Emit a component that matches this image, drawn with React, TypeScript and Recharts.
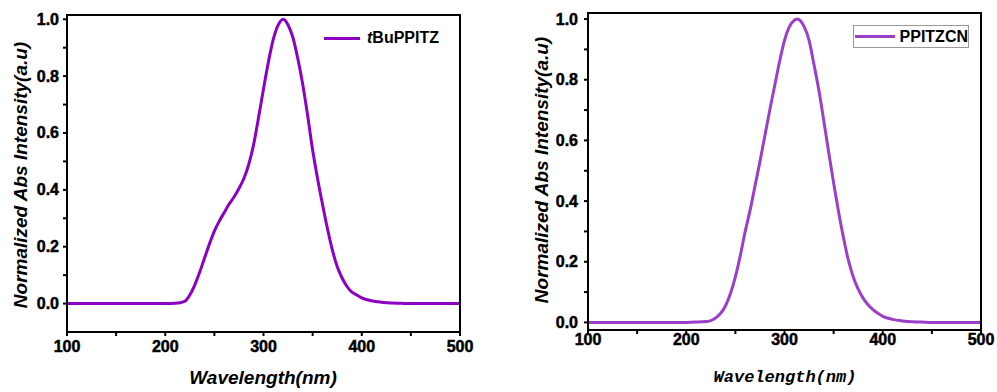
import { LineChart, Line, XAxis, YAxis, ReferenceLine } from 'recharts';

// tBuPPITZ: wavelength (nm) and normalized absorbance
const tbuWavelengths = [
  100, 150, 200, 210, 215, 220, 225, 230, 235, 240, 245, 250, 255, 260, 265, 270, 275, 280,
  285, 290, 295, 300, 305, 310, 315, 320, 325, 330, 335, 340, 345, 350, 355, 360, 365, 370,
  375, 380, 385, 390, 395, 400, 410, 420, 430, 440, 450, 500,
];
const tbuValues = [
  0, 0, 0, 0.001, 0.003, 0.008, 0.03, 0.065, 0.11, 0.16, 0.21, 0.255, 0.29, 0.32, 0.35, 0.375,
  0.405, 0.44, 0.49, 0.56, 0.655, 0.755, 0.85, 0.93, 0.98, 1.0, 0.98, 0.935, 0.86, 0.77, 0.66, 0.54,
  0.44, 0.35, 0.265, 0.19, 0.13, 0.09, 0.06, 0.04, 0.03, 0.02, 0.01, 0.005, 0.002, 0.001, 0, 0,
];

// PPITZCN: wavelength (nm) and normalized absorbance
const cnWavelengths = [
  100, 150, 200, 210, 215, 220, 225, 230, 235, 240, 245, 250, 255, 260, 265, 270, 275, 280,
  285, 290, 295, 300, 305, 310, 313, 316, 320, 325, 330, 335, 340, 345, 350, 355, 360, 365,
  370, 375, 380, 385, 390, 395, 400, 410, 420, 430, 440, 450, 500,
];
const cnValues = [
  0, 0, 0, 0.001, 0.002, 0.003, 0.006, 0.015, 0.03, 0.055, 0.095, 0.15, 0.22, 0.3, 0.37, 0.45,
  0.53, 0.615, 0.7, 0.78, 0.86, 0.93, 0.975, 0.996, 1.0, 0.995, 0.975, 0.93, 0.85, 0.765, 0.665,
  0.56, 0.46, 0.365, 0.28, 0.205, 0.15, 0.11, 0.08, 0.058, 0.042, 0.03, 0.02, 0.01, 0.005, 0.002,
  0.001, 0, 0,
];

const xTicks = [100, 150, 200, 250, 300, 350, 400, 450, 500];
const yTicks = [0, 0.1, 0.2, 0.3, 0.4, 0.5, 0.6, 0.7, 0.8, 0.9, 1.0];
const leftYDomain = [-0.1, 1.015];
const rightYDomain = [-0.025, 1.02];

const leftData = tbuWavelengths.map((w, i) => ({ w, v: tbuValues[i] }));
const rightData = cnWavelengths.map((w, i) => ({ w, v: cnValues[i] }));

const FONT = '"Liberation Sans", Arial, sans-serif';
const axisStroke = { stroke: '#000', strokeWidth: 2 };

const makeXTick = (dy: number) => (props: any) => {
  const { x, y, payload } = props;
  if (payload.value % 100 !== 0) return <g />;
  return (
    <text x={x} y={y + dy} textAnchor="middle" fill="#000" stroke="#000" strokeWidth={0.5}
      fontSize={16} fontWeight={700} fontFamily={FONT}>
      {payload.value}
    </text>
  );
};

const makeYTick = (dx: number) => (props: any) => {
  const { x, y, payload } = props;
  if (Math.round(payload.value * 10) % 2 !== 0) return <g />;
  return (
    <text x={x - dx} y={y + 5.5} textAnchor="end" fill="#000" stroke="#000" strokeWidth={0.5}
      fontSize={16} fontWeight={700} fontFamily={FONT}>
      {payload.value.toFixed(1)}
    </text>
  );
};

const vTitle = (left: number, top: number) => ({
  position: 'absolute' as const, left, top, transform: 'translate(-50%, -50%) rotate(-90deg)',
  whiteSpace: 'nowrap' as const, fontFamily: FONT, fontSize: 19, fontWeight: 700, fontStyle: 'italic',
});

// plot box outline
const PlotBox = ({ left, top, width, height }: { left: number; top: number; width: number; height: number }) => (
  <svg width={width + 4} height={height + 4} style={{ position: 'absolute', left: left - 2, top: top - 2, overflow: 'visible' }}>
    <rect x={2} y={2} width={width} height={height} fill="none" stroke="#000" strokeWidth={2} />
  </svg>
);

export default function App() {
  return (
    <div style={{ position: 'absolute', left: 0, top: 0, width: 997, height: 392, background: '#fff' }}>
      <div style={{ position: 'absolute', left: 0, top: 0, width: 490, height: 392 }}>
        <LineChart width={490} height={392} data={leftData} margin={{ top: 15, right: 30, bottom: 30, left: 0 }}>
          <XAxis
            dataKey="w" type="number" domain={[100, 500]} ticks={xTicks} interval={0}
            height={30} tick={makeXTick(14)} tickSize={4} axisLine={axisStroke} tickLine={axisStroke}
          />
          <YAxis
            type="number" domain={leftYDomain} allowDataOverflow ticks={yTicks} interval={0}
            width={67} tick={makeYTick(2)} tickSize={4} axisLine={axisStroke} tickLine={axisStroke}
          />
          <ReferenceLine y={leftYDomain[1]} stroke="#000" strokeWidth={2} ifOverflow="visible" />
          <ReferenceLine x={500} stroke="#000" strokeWidth={2} ifOverflow="visible" />
          <Line dataKey="v" type="monotone" stroke="#8C00C4" strokeWidth={3} dot={false} isAnimationActive={false} />
        </LineChart>
        <PlotBox left={67} top={15} width={393} height={317} />
        <div style={{ position: 'absolute', left: 324, top: 29, display: 'flex', alignItems: 'center', fontFamily: FONT }}>
          <div style={{ width: 36, height: 3, background: '#8C00C4' }} />
          <span style={{ marginLeft: 7, fontSize: 16, fontWeight: 700 }}>
            <i>t</i>BuPPITZ
          </span>
        </div>
        <div style={vTitle(21, 175)}>Normalized Abs Intensity(a.u)</div>
        <div
          style={{
            position: 'absolute', left: 263, top: 378, transform: 'translate(-50%, -50%)', whiteSpace: 'nowrap',
            fontFamily: FONT, fontSize: 19, fontWeight: 700, fontStyle: 'italic',
          }}
        >
          Wavelength(nm)
        </div>
      </div>

      <div style={{ position: 'absolute', left: 500, top: 0, width: 497, height: 392 }}>
        <LineChart width={497} height={392} data={rightData} margin={{ top: 13, right: 16, bottom: 32, left: 0 }}>
          <XAxis
            dataKey="w" type="number" domain={[100, 500]} ticks={xTicks} interval={0}
            height={30} tick={makeXTick(9)} tickSize={4} axisLine={axisStroke} tickLine={axisStroke}
          />
          <YAxis
            type="number" domain={rightYDomain} allowDataOverflow ticks={yTicks} interval={0}
            width={88} tick={makeYTick(4)} tickSize={4} axisLine={axisStroke} tickLine={axisStroke}
          />
          <ReferenceLine y={rightYDomain[1]} stroke="#000" strokeWidth={2} ifOverflow="visible" />
          <ReferenceLine x={500} stroke="#000" strokeWidth={2} ifOverflow="visible" />
          <Line dataKey="v" type="monotone" stroke="#9C3FC8" strokeWidth={3} dot={false} isAnimationActive={false} />
        </LineChart>
        <PlotBox left={88} top={13} width={393} height={317} />
        <div
          style={{
            position: 'absolute', left: 353, top: 25, width: 114, height: 21,
            border: '1px solid #999', display: 'flex', alignItems: 'center', fontFamily: FONT,
          }}
        >
          <div style={{ width: 40, height: 3, background: '#9C3FC8', marginLeft: 1 }} />
          <span style={{ marginLeft: 5, fontSize: 16, fontWeight: 700 }}>PPITZCN</span>
        </div>
        <div style={vTitle(42, 170)}>Normalized Abs Intensity(a.u)</div>
        <div
          style={{
            position: 'absolute', left: 285, top: 377, transform: 'translate(-50%, -50%)', whiteSpace: 'nowrap',
            fontFamily: '"Liberation Mono", "DejaVu Sans Mono", monospace', fontSize: 17, fontWeight: 700,
            fontStyle: 'italic',
          }}
        >
          Wavelength(nm)
        </div>
      </div>
    </div>
  );
}
